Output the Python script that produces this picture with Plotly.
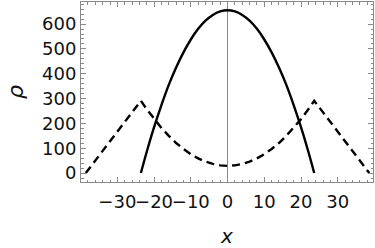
import plotly.graph_objects as go

# solid curve
x_solid = [-23.6, -22, -20, -18, -16, -14, -12, -10, -8, -6, -4, -2, 0,
           2, 4, 6, 8, 10, 12, 14, 16, 18, 20, 22, 23.6]
rho_solid = [0, 86, 185, 274, 355, 425, 486, 538, 581, 614, 637, 651, 656,
             651, 637, 614, 581, 538, 486, 425, 355, 274, 185, 86, 0]

# dashed curve
x_dashed = [-38.6, -23.6, -22, -20, -18, -16, -14, -12, -10, -8, -6, -4, -2, 0,
            2, 4, 6, 8, 10, 12, 14, 16, 18, 20, 22, 23.6, 38.6]
rho_dashed = [0, 291, 257, 217, 182, 150, 121, 97, 76, 59, 46, 37, 31, 29,
              31, 37, 46, 59, 76, 97, 121, 150, 182, 217, 257, 291, 0]

x_ticks = [-30, -20, -10, 0, 10, 20, 30]
y_ticks = [0, 100, 200, 300, 400, 500, 600]

fig = go.Figure()
fig.add_trace(go.Scatter(x=x_dashed, y=rho_dashed, mode="lines",
                         line=dict(color="black", width=2.4, dash="8px,5px")))
fig.add_trace(go.Scatter(x=x_solid, y=rho_solid, mode="lines",
                         line=dict(color="black", width=2.4, shape="spline")))

frame = "#8a8a8a"
font = dict(family="DejaVu Sans, sans-serif", size=18, color="#111")
fig.update_layout(
    width=375, height=248,
    margin=dict(l=81, r=2, t=2, b=66),
    paper_bgcolor="white", plot_bgcolor="white",
    showlegend=False,
    font=font,
    xaxis=dict(range=[-39.9, 39.6], tickvals=x_ticks,
               ticktext=["\u221230", "\u221220", "\u221210", "0", "10", "20", "30"],
               tickangle=0, automargin=False, ticklabelstandoff=3,
               ticks="inside", ticklen=5, tickcolor=frame, tickwidth=1,
               minor=dict(dtick=2, tick0=0, ticks="inside", ticklen=2.5, tickcolor=frame),
               showline=True, linecolor=frame, linewidth=1, mirror="allticks",
               showgrid=False, zeroline=True, zerolinecolor="#888", zerolinewidth=1,
               title=dict(text="<i>x</i>", font=dict(size=20), standoff=19),
               tickfont=font),
    yaxis=dict(range=[-36, 689], tickvals=y_ticks, automargin=False,
               ticks="inside", ticklen=5, tickcolor=frame, tickwidth=1,
               minor=dict(dtick=20, tick0=0, ticks="inside", ticklen=2.5, tickcolor=frame),
               showline=True, linecolor=frame, linewidth=1, mirror="allticks",
               showgrid=False, zeroline=False,
               title=dict(text="<i>\u03c1</i>", font=dict(size=22), standoff=12),
               tickfont=font),
)
fig.write_html("out.html")
